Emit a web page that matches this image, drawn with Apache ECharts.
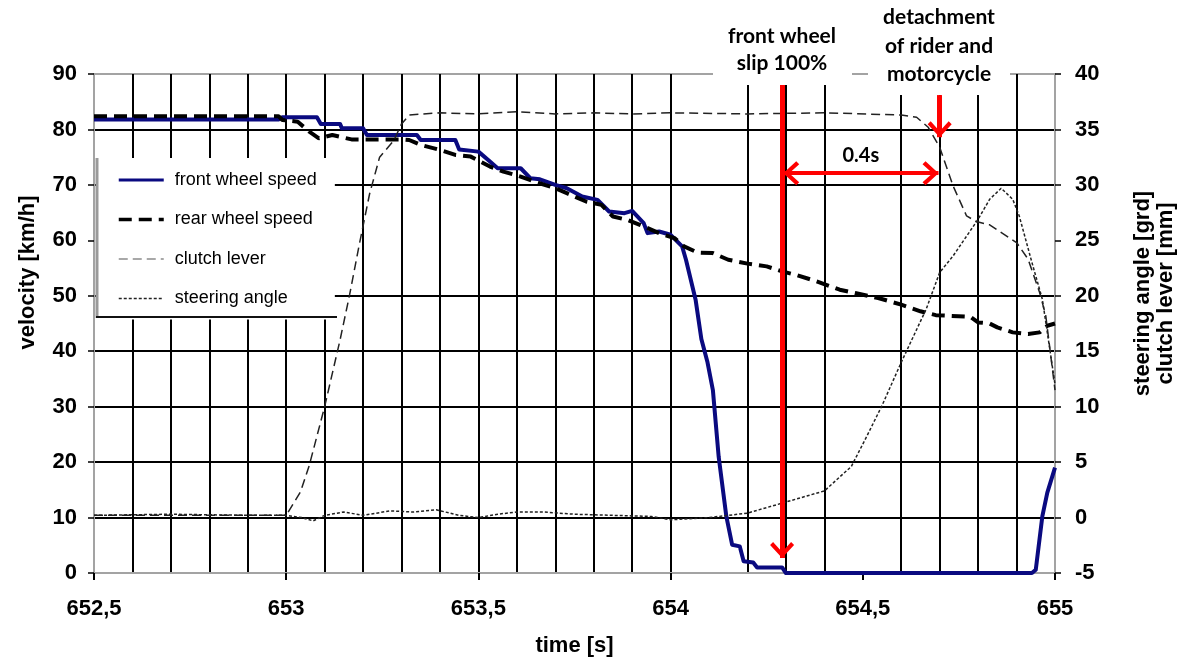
<!DOCTYPE html>
<html>
<head>
<meta charset="utf-8">
<title>wheel speed / steering</title>
<script src="https://cdn.jsdelivr.net/npm/echarts@6/dist/echarts.min.js"></script>
<style>
  html, body { margin: 0; padding: 0; background: #fff; }
  #chart { width: 1184px; height: 659px; }
</style>
</head>
<body>
<div id="chart"></div>
<script>
// values, time in s
const frontTime = [652.5, 652.98, 652.99, 653.08, 653.09, 653.14, 653.145, 653.2, 653.21, 653.34,
  653.35, 653.44, 653.45, 653.5, 653.53, 653.55, 653.61, 653.635, 653.66, 653.7,
  653.73, 653.77, 653.81, 653.84, 653.88, 653.9, 653.93, 653.94, 653.97, 654.0,
  654.03, 654.04, 654.065, 654.08, 654.096, 654.11, 654.125, 654.145, 654.16, 654.18,
  654.19, 654.215, 654.225, 654.29, 654.3, 654.94, 654.95, 654.967, 654.98, 655];
const frontSpeed = [81.8, 81.8, 82.2, 82.2, 81.0, 81.0, 80.2, 80.2, 79.0, 79.0,
  78.1, 78.1, 76.4, 76.0, 74.2, 73.0, 73.0, 71.2, 71.0, 70.0,
  69.4, 67.9, 67.3, 65.2, 64.9, 65.3, 63.1, 61.3, 61.6, 61.0,
  58.9, 56.5, 49.3, 42.2, 38.0, 33.0, 21.0, 10.2, 5.1, 4.8,
  2.1, 1.9, 1.0, 1.0, 0, 0, 0.6, 10.2, 14.5, 19.0];

const rearTime = [652.5, 652.98, 652.99, 653.03, 653.06, 653.085, 653.12, 653.17, 653.3, 653.32,
  653.35, 653.4, 653.44, 653.48, 653.53, 653.565, 653.61, 653.645, 653.7, 653.73,
  653.78, 653.82, 653.85, 653.887, 653.92, 653.97, 654.01, 654.035, 654.07, 654.11,
  654.15, 654.2, 654.25, 654.29, 654.33, 654.38, 654.44, 654.48, 654.54, 654.6,
  654.65, 654.69, 654.78, 654.8, 654.83, 654.85, 654.89, 654.93, 654.96, 654.98, 655];
const rearSpeed = [82.4, 82.4, 81.7, 81.4, 79.6, 78.4, 79.0, 78.2, 78.2, 78.1,
  77.2, 76.3, 75.4, 75.1, 73.3, 72.4, 71.5, 70.6, 69.4, 68.5,
  67.0, 66.4, 64.3, 63.7, 62.8, 61.3, 60.4, 58.9, 57.8, 57.7,
  56.5, 55.8, 55.3, 54.4, 53.7, 52.6, 51.1, 50.5, 49.6, 48.4,
  47.2, 46.5, 46.2, 45.2, 45.0, 44.3, 43.4, 43.1, 43.4, 44.6, 45.0];

const clutchTime = [652.5, 653.0, 653.037, 653.06, 653.1, 653.12, 653.14, 653.165, 653.19, 653.217,
  653.243, 653.28, 653.3, 653.32, 653.4, 653.5, 653.6, 653.7, 653.8, 653.9,
  654.0, 654.2, 654.4, 654.6, 654.64, 654.67, 654.7, 654.735, 654.77, 654.795,
  654.83, 654.9, 654.93, 654.96, 654.976, 654.99, 655];
const clutchLever = [0.2, 0.2, 2.3, 4.7, 10.0, 13.0, 16.0, 20.1, 24.6, 29.2,
  32.5, 34.0, 35.5, 36.3, 36.5, 36.4, 36.6, 36.4, 36.5, 36.4,
  36.5, 36.4, 36.5, 36.3, 36.1, 35.2, 33.4, 29.9, 27.2, 26.7,
  26.4, 24.8, 23.3, 20.3, 18.2, 14.3, 11.5];

const steerTime = [652.5, 652.7, 652.9, 653.0, 653.04, 653.07, 653.1, 653.15, 653.2, 653.27,
  653.33, 653.39, 653.45, 653.5, 653.55, 653.6, 653.67, 653.75, 653.85, 653.95,
  654.0, 654.05, 654.1, 654.2, 654.3, 654.4, 654.47, 654.51, 654.55, 654.6,
  654.665, 654.7, 654.735, 654.8, 654.83, 654.86, 654.89, 654.907, 654.94, 654.967,
  654.98, 655];
const steerAngle = [0.2, 0.3, 0.2, 0.2, 0.0, -0.3, 0.2, 0.5, 0.2, 0.6,
  0.5, 0.7, 0.2, 0.0, 0.3, 0.5, 0.5, 0.3, 0.2, 0.1,
  -0.2, -0.1, 0.0, 0.4, 1.4, 2.4, 4.6, 7.3, 10.1, 14.0,
  18.8, 22.1, 23.6, 26.9, 28.7, 29.7, 28.7, 27.2, 23.0, 19.7,
  16.7, 12.0];

// events marked on the chart: [time, velocity]
const slipStart = [654.29, 88.0];
const slipEnd = [654.29, 2.7];
const detachStart = [654.7, 86.2];
const detachEnd = [654.7, 78.6];
const spanFrom = [654.293, 72.1];
const spanTo = [654.697, 72.1];

const zip = (t, v) => t.map((x, i) => [x, v[i]]);

const GRAY = '#a3a3a3';
const FRONT = '#0a0a80';
const RED = '#ff0000';
const AXIS_FONT = 'Liberation Sans';
const NOTE_FONT = 'Lato';
const CHEVRON = 'path://M0,-16L0,-16M0,0L12,13L9,16L0,6L-9,16L-12,13Z';

// grid line colours: outer edges grey, a couple of lines missing in the original
const vLineColors = [];
for (let i = 0; i <= 25; i++) {
  if (i === 0 || i === 25) vLineColors.push(GRAY);
  else if (i === 16 || i === 20) vLineColors.push('rgba(0,0,0,0)');
  else vLineColors.push('#000');
}
const hLineColors = [GRAY, '#000', '#000', '#000', '#000', '#000', 'rgba(0,0,0,0)', '#000', '#000', GRAY];

const labelStyle = { color: '#000', fontFamily: AXIS_FONT, fontWeight: 'bold', fontSize: 22 };
const nameStyle = { color: '#000', fontFamily: AXIS_FONT, fontWeight: 'bold', fontSize: 22 };

let chart = echarts.init(document.getElementById('chart'));

chart.setOption({
  animation: false,
  backgroundColor: '#fff',
  grid: { left: 94, right: 129, top: 74, bottom: 86, containLabel: false, outerBoundsMode: 'none' },
  legend: {
    orient: 'vertical',
    left: 97,
    top: 158,
    padding: [13, 18, 12, 20],
    itemWidth: 45,
    itemHeight: 14,
    itemGap: 21.5,
    backgroundColor: '#fff',
    itemStyle: { opacity: 0 },
    textStyle: { color: '#000', fontFamily: AXIS_FONT, fontSize: 18, lineHeight: 14, padding: [0, 0, 0, 6] },
    data: [
      { name: 'front wheel speed', lineStyle: { width: 3 } },
      { name: 'rear wheel speed', lineStyle: { width: 3.5 } },
      { name: 'clutch lever', lineStyle: { width: 1.5, color: '#8c8c8c' } },
      { name: 'steering angle', lineStyle: { width: 1.5 } }
    ]
  },
  xAxis: [
    {
      type: 'value', min: 652.5, max: 655, interval: 0.1,
      axisLine: { show: false }, axisTick: { show: false }, axisLabel: { show: false },
      splitLine: { show: true, lineStyle: { color: vLineColors, width: 2 } }
    },
    {
      type: 'value', min: 652.5, max: 655, interval: 0.5, position: 'bottom',
      axisLine: { show: true, onZero: false, lineStyle: { color: GRAY, width: 2 } },
      axisTick: { show: true, length: 7, lineStyle: { color: '#000', width: 2 } },
      axisLabel: Object.assign({ margin: 25, formatter: v => String(v).replace('.', ',') }, labelStyle),
      splitLine: { show: false },
      name: 'time [s]', nameLocation: 'middle', nameGap: 62, nameTextStyle: nameStyle
    }
  ],
  yAxis: [
    {
      type: 'value', min: 0, max: 90, interval: 10, position: 'left',
      axisLine: { show: true, onZero: false, lineStyle: { color: GRAY, width: 2 } },
      axisTick: { show: true, length: 6, lineStyle: { color: '#000', width: 1.5 } },
      axisLabel: Object.assign({ margin: 17 }, labelStyle),
      splitLine: { show: true, lineStyle: { color: hLineColors, width: 2 } },
      name: 'velocity [km/h]', nameLocation: 'middle', nameGap: 55,
      nameTextStyle: Object.assign({ padding: [0, 0, 0, 102] }, nameStyle)
    },
    {
      type: 'value', min: -5, max: 40, interval: 5, position: 'right',
      axisLine: { show: true, onZero: false, lineStyle: { color: GRAY, width: 2 } },
      axisTick: { show: true, length: 6, lineStyle: { color: '#000', width: 1.5 } },
      axisLabel: Object.assign({ margin: 20 }, labelStyle),
      splitLine: { show: false },
      name: 'steering angle [grd]\nclutch lever [mm]', nameLocation: 'middle', nameGap: 76,
      nameTextStyle: Object.assign({ padding: [0, 0, 0, 60], lineHeight: 23 }, nameStyle)
    }
  ],
  series: [
    {
      name: 'front wheel speed', type: 'line', xAxisIndex: 0, yAxisIndex: 0,
      data: zip(frontTime, frontSpeed), symbol: 'none',
      lineStyle: { color: FRONT, width: 4, join: 'round' }, itemStyle: { color: FRONT },
      markLine: {
        silent: true, animation: false,
        symbol: ['none', CHEVRON], symbolSize: [24, 32],
        lineStyle: { color: RED, width: 5, type: 'solid' },
        label: { show: false },
        data: [
          [{ coord: slipStart }, { coord: slipEnd }],
          [{ coord: detachStart }, { coord: detachEnd }],
          [
            { coord: spanFrom, symbol: CHEVRON },
            {
              coord: spanTo, lineStyle: { width: 4 },
              label: {
                show: true, position: 'middle', formatter: '0.4s', distance: 8,
                color: '#000', fontFamily: NOTE_FONT, fontWeight: 'bold', fontSize: 20
              }
            }
          ]
        ]
      }
    },
    {
      name: 'rear wheel speed', type: 'line', xAxisIndex: 0, yAxisIndex: 0,
      data: zip(rearTime, rearSpeed), symbol: 'none',
      lineStyle: { color: '#000', width: 4, type: [13, 7] }, itemStyle: { color: '#000' }
    },
    {
      name: 'clutch lever', type: 'line', xAxisIndex: 0, yAxisIndex: 1,
      data: zip(clutchTime, clutchLever), symbol: 'none',
      lineStyle: { color: '#222', width: 1.5, type: [9, 5] }, itemStyle: { color: '#222' }
    },
    {
      name: 'steering angle', type: 'line', xAxisIndex: 0, yAxisIndex: 1,
      data: zip(steerTime, steerAngle), symbol: 'none',
      lineStyle: { color: '#222', width: 1.5, type: [3, 2] }, itemStyle: { color: '#222' }
    }
  ],
  graphic: [
    { type: 'rect', z: 100, shape: { x: 713, y: 0, width: 139, height: 85 }, style: { fill: '#fff' } },
    {
      type: 'text', z: 101, x: 782, y: 23,
      style: { text: 'front wheel\nslip 100%', fill: '#000', fontFamily: NOTE_FONT, fontWeight: 'bold', fontSize: 21, align: 'center', verticalAlign: 'top', lineHeight: 27 }
    },
    { type: 'rect', z: 100, shape: { x: 868, y: 0, width: 142, height: 95 }, style: { fill: '#fff' } },
    {
      type: 'text', z: 101, x: 939, y: 3,
      style: { text: 'detachment\nof rider and\nmotorcycle', fill: '#000', fontFamily: NOTE_FONT, fontWeight: 'bold', fontSize: 21, align: 'center', verticalAlign: 'top', lineHeight: 28.5 }
    },
    { type: 'line', z: 100, shape: { x1: 97, y1: 158, x2: 97, y2: 318 }, style: { stroke: '#9a9a9a', lineWidth: 3 } },
    { type: 'line', z: 100, shape: { x1: 96, y1: 317, x2: 337, y2: 317 }, style: { stroke: '#111', lineWidth: 2 } }
  ]
});

window.addEventListener('resize', () => chart.resize());
</script>
</body>
</html>
